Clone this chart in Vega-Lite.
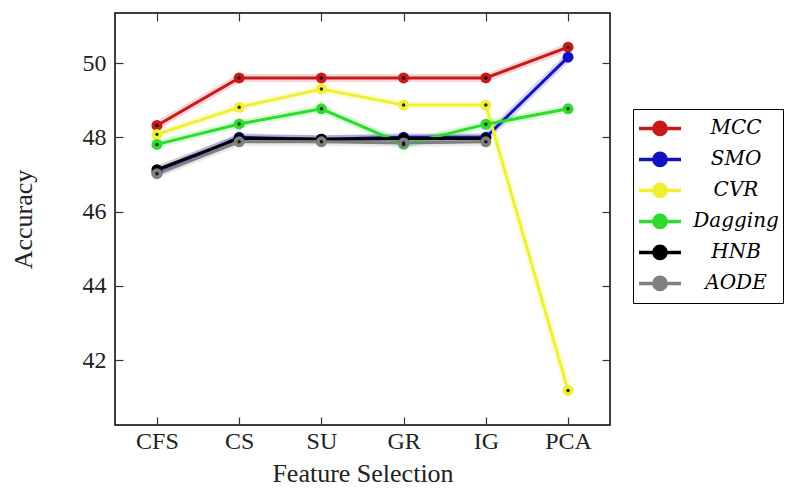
{
  "$schema": "https://vega.github.io/schema/vega-lite/v6.json",
  "width": 495,
  "height": 412,
  "autosize": {"type": "none"},
  "padding": {"left": 115, "top": 13, "right": 187, "bottom": 67},
  "background": "white",
  "data": {
    "values": [
      {"Feature": "CFS", "Method": "MCC", "Accuracy": 48.32},
      {"Feature": "CS", "Method": "MCC", "Accuracy": 49.6},
      {"Feature": "SU", "Method": "MCC", "Accuracy": 49.6},
      {"Feature": "GR", "Method": "MCC", "Accuracy": 49.6},
      {"Feature": "IG", "Method": "MCC", "Accuracy": 49.6},
      {"Feature": "PCA", "Method": "MCC", "Accuracy": 50.43},
      {"Feature": "CFS", "Method": "SMO", "Accuracy": 47.05},
      {"Feature": "CS", "Method": "SMO", "Accuracy": 48.0},
      {"Feature": "SU", "Method": "SMO", "Accuracy": 47.95},
      {"Feature": "GR", "Method": "SMO", "Accuracy": 48.0},
      {"Feature": "IG", "Method": "SMO", "Accuracy": 48.0},
      {"Feature": "PCA", "Method": "SMO", "Accuracy": 50.16},
      {"Feature": "CFS", "Method": "CVR", "Accuracy": 48.08},
      {"Feature": "CS", "Method": "CVR", "Accuracy": 48.81},
      {"Feature": "SU", "Method": "CVR", "Accuracy": 49.3},
      {"Feature": "GR", "Method": "CVR", "Accuracy": 48.87},
      {"Feature": "IG", "Method": "CVR", "Accuracy": 48.87},
      {"Feature": "PCA", "Method": "CVR", "Accuracy": 41.18},
      {"Feature": "CFS", "Method": "Dagging", "Accuracy": 47.81},
      {"Feature": "CS", "Method": "Dagging", "Accuracy": 48.36},
      {"Feature": "SU", "Method": "Dagging", "Accuracy": 48.77},
      {"Feature": "GR", "Method": "Dagging", "Accuracy": 47.81},
      {"Feature": "IG", "Method": "Dagging", "Accuracy": 48.35},
      {"Feature": "PCA", "Method": "Dagging", "Accuracy": 48.77},
      {"Feature": "CFS", "Method": "HNB", "Accuracy": 47.13},
      {"Feature": "CS", "Method": "HNB", "Accuracy": 47.97},
      {"Feature": "SU", "Method": "HNB", "Accuracy": 47.95},
      {"Feature": "GR", "Method": "HNB", "Accuracy": 47.97},
      {"Feature": "IG", "Method": "HNB", "Accuracy": 47.97},
      {"Feature": "CFS", "Method": "AODE", "Accuracy": 47.02},
      {"Feature": "CS", "Method": "AODE", "Accuracy": 47.88},
      {"Feature": "SU", "Method": "AODE", "Accuracy": 47.88},
      {"Feature": "GR", "Method": "AODE", "Accuracy": 47.85},
      {"Feature": "IG", "Method": "AODE", "Accuracy": 47.88}
    ]
  },
  "layer": [
    {
      "encoding": {
        "x": {
          "field": "Feature",
          "type": "ordinal",
          "sort": ["CFS", "CS", "SU", "GR", "IG", "PCA"],
          "scale": {"type": "point", "padding": 0.51},
          "axis": {
            "orient": "bottom",
            "title": "Feature Selection",
            "labelAngle": 0,
            "tickSize": -8,
            "labelPadding": 12,
            "titlePadding": 7,
            "domain": false,
            "grid": false
          }
        },
        "y": {
          "field": "Accuracy",
          "type": "quantitative",
          "scale": {"domain": [40.25, 51.35], "nice": false, "zero": false},
          "axis": {
            "orient": "left",
            "title": "Accuracy",
            "values": [42, 44, 46, 48, 50],
            "tickSize": -8,
            "labelPadding": 17,
            "titlePadding": 46,
            "domain": false,
            "grid": false
          }
        },
        "color": {
          "field": "Method",
          "type": "nominal",
          "scale": {
            "domain": ["MCC", "SMO", "CVR", "Dagging", "HNB", "AODE"],
            "range": ["#c81a1a", "#1212c0", "#f0f032", "#2edc2e", "#000000", "#808080"]
          },
          "legend": {
            "title": null,
            "orient": "none",
            "legendX": 518,
            "legendY": 96,
            "padding": 4,
            "strokeColor": "black",
            "fillColor": "white",
            "clipHeight": 30.8,
            "rowPadding": 0,
            "symbolType": "M-1,0H1M0.29,0A0.29,0.29,0,1,1,-0.29,0A0.29,0.29,0,1,1,0.29,0Z",
            "symbolSize": 1764,
            "symbolStrokeWidth": 3.5,
            "symbolOpacity": 1,
            "labelFont": "DejaVu Serif",
            "labelFontStyle": "italic",
            "labelFontSize": 20,
            "labelColor": "black",
            "labelAlign": "center",
            "labelOffset": 53,
            "labelLimit": 200,
            "encode": {
              "symbols": {
                "update": {
                  "fill": {"scale": "color", "field": "value"},
                  "stroke": {"scale": "color", "field": "value"},
                  "opacity": {"value": 1}
                }
              }
            }
          }
        }
      },
      "layer": [
        {
          "mark": {"type": "line", "strokeWidth": 8, "opacity": 0.18},
          "encoding": {}
        },
        {
          "mark": {"type": "line", "strokeWidth": 3},
          "encoding": {}
        },
        {
          "mark": {"type": "point", "filled": true, "shape": "circle", "size": 120, "opacity": 1},
          "encoding": {}
        },
        {
          "transform": [{"filter": "datum.Method === 'CVR' || datum.Method === 'Dagging' || datum.Method === 'AODE' || datum.Method === 'MCC'"}],
          "mark": {"type": "point", "filled": true, "shape": "circle", "size": 12, "opacity": 0.85},
          "encoding": {"color": {"value": "black"}}
        }
      ]
    },
    {
      "mark": {"type": "point", "opacity": 0},
      "encoding": {
        "color": {"value": "black"},
        "x": {
          "field": "Feature",
          "type": "ordinal",
          "sort": ["CFS", "CS", "SU", "GR", "IG", "PCA"],
          "scale": {"type": "point", "padding": 0.51},
          "axis": {"orient": "top", "labels": false, "title": null, "tickSize": -8, "domain": false, "grid": false}
        },
        "y": {
          "field": "Accuracy",
          "type": "quantitative",
          "scale": {"domain": [40.25, 51.35], "nice": false, "zero": false},
          "axis": {"orient": "right", "labels": false, "title": null, "values": [42, 44, 46, 48, 50], "tickSize": -8, "domain": false, "grid": false}
        }
      }
    }
  ],
  "resolve": {"axis": {"x": "independent", "y": "independent"}},
  "config": {
    "view": {"stroke": "black", "strokeWidth": 1.5},
    "axis": {
      "labelFont": "Liberation Serif",
      "labelFontSize": 24,
      "labelColor": "#222222",
      "titleFont": "Liberation Serif",
      "titleFontSize": 26,
      "titleFontWeight": "normal",
      "titleColor": "#222222",
      "tickColor": "#333333",
      "tickWidth": 1.2
    }
  }
}
